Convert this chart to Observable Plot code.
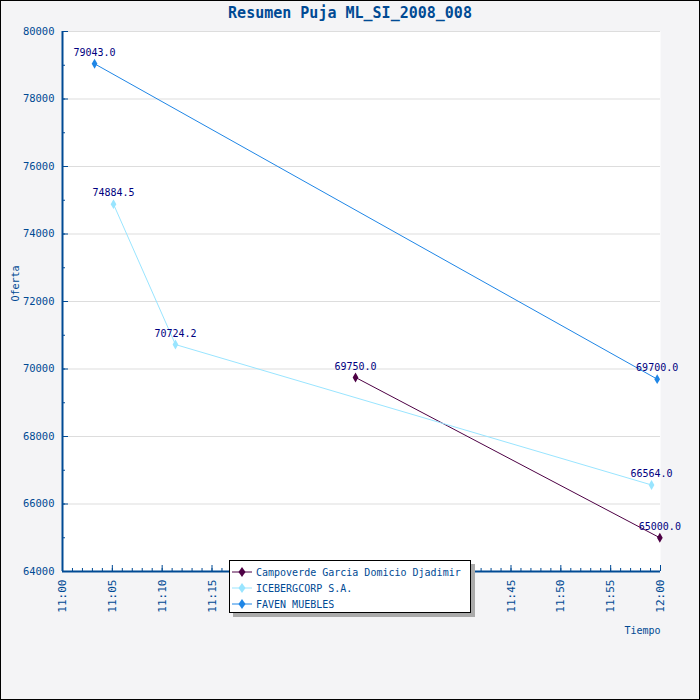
<!DOCTYPE html>
<html>
<head>
<meta charset="utf-8">
<script src="https://cdn.jsdelivr.net/npm/d3@7"></script>
<script src="https://cdn.jsdelivr.net/npm/@observablehq/plot@0.6"></script>
<style>
  html, body { margin: 0; padding: 0; background: #ffffff; }
  #wrap { position: relative; width: 700px; height: 700px; box-sizing: border-box; border: 1px solid #000; background: #f4f4f6; overflow: hidden; font-family: "DejaVu Sans Mono", monospace; }
  #title { position: absolute; left: 0; top: 3px; width: 698px; text-align: center; font-size: 15px; font-weight: bold; color: #004a94; }
  #chart { position: absolute; left: 0; top: 0; }
  #legend { position: absolute; left: 228px; top: 559px; width: 242px; height: 53px; box-sizing: border-box; background: #fff; border: 1px solid #000; box-shadow: 4px 4px 0 #aaaaaa; font-size: 10px; color: #004a94; }
  .row { position: absolute; left: 2px; height: 14px; display: flex; align-items: center; }
  .row svg { margin-right: 4px; }
</style>
</head>
<body>
<div id="wrap">
  <div id="chart"></div>
  <div id="title"></div>
  <div id="legend"></div>
</div>
<script>
const titleText = "Resumen Puja ML_SI_2008_008";
const xLabel = "Tiempo";
const yLabel = "Oferta";
const seriesNames = ["Campoverde Garcia Domicio Djadimir", "ICEBERGCORP S.A.", "FAVEN MUEBLES"];
const seriesColors = ["#4d0044", "#99e5ff", "#1f86e6"];
const campoverdeTimes = ["11:29:24", "11:59:56"];
const campoverdeValues = [69750.0, 65000.0];
const icebergTimes = ["11:05:07", "11:11:20", "11:59:06"];
const icebergValues = [74884.5, 70724.2, 66564.0];
const favenTimes = ["11:03:13", "11:59:40"];
const favenValues = [79043.0, 69700.0];
const xDomainText = ["11:00:00", "12:00:00"];
const yDomain = [64000, 80000];
const yMajorStep = 2000;
const yMinorStep = 1000;
const xMajorMinutes = 5;
const xMinorMinutes = 1;

const parse = d3.utcParse("%H:%M:%S");
const fmt = d3.utcFormat("%H:%M");
const xDomain = xDomainText.map(parse);

const data = [];
[[campoverdeTimes, campoverdeValues], [icebergTimes, icebergValues], [favenTimes, favenValues]].forEach(([ts, vs], i) => {
  ts.forEach((t, j) => data.push({series: seriesNames[i], time: parse(t), value: vs[j]}));
});

const spanMin = (xDomain[1] - xDomain[0]) / 60000;
const xMajor = d3.range(0, spanMin + 1, xMajorMinutes).map(m => new Date(+xDomain[0] + m * 60000));
const xMinor = d3.range(0, spanMin + 1, xMinorMinutes).map(m => new Date(+xDomain[0] + m * 60000));
const yMajor = d3.range(yDomain[0], yDomain[1] + 1, yMajorStep);
const yMinor = d3.range(yDomain[0], yDomain[1] + 1, yMinorStep);

const W = 698, H = 698;
const mL = 61, mR = 39, mT = 30, mB = 128;
const innerW = W - mL - mR, innerH = H - mT - mB;
const axisColor = "#004a94";

const chart = Plot.plot({
  width: W, height: H,
  marginLeft: mL, marginRight: mR, marginTop: mT, marginBottom: mB,
  style: {background: "transparent", fontFamily: "DejaVu Sans Mono, monospace", fontSize: "10px", overflow: "visible"},
  x: {type: "utc", domain: xDomain},
  y: {domain: yDomain},
  color: {domain: seriesNames, range: seriesColors},
  marks: [
    Plot.frame({fill: "white", stroke: null}),
    Plot.gridY(yMajor, {stroke: "#dddddd", strokeOpacity: 1}),
    Plot.tickX(xMinor, {x: d => d, stroke: axisColor, insetTop: innerH - 3}),
    Plot.tickX(xMajor, {x: d => d, stroke: axisColor, insetTop: innerH - 6}),
    Plot.tickY(yMinor, {y: d => d, stroke: axisColor, insetRight: innerW - 3}),
    Plot.tickY(yMajor, {y: d => d, stroke: axisColor, insetRight: innerW - 6}),
    Plot.ruleX([xDomain[0]], {stroke: axisColor, strokeWidth: 2}),
    Plot.ruleY([yDomain[0]], {stroke: axisColor, strokeWidth: 2}),
    Plot.axisX(xMajor, {tickSize: 0, tickPadding: 8, tickRotate: -90, tickFormat: fmt, fill: axisColor, fontSize: 11, label: null}),
    Plot.axisY(yMajor, {tickSize: 0, tickPadding: 8, tickFormat: d => String(d), fill: axisColor, fontSize: 10.5, label: null}),
    Plot.text([xLabel], {frameAnchor: "bottom-right", dy: 62, text: d => d, fill: axisColor, fontSize: 10, textAnchor: "end"}),
    Plot.text([yLabel], {frameAnchor: "left", dx: -47, text: d => d, fill: axisColor, fontSize: 10, rotate: -90}),
    Plot.line(data, {x: "time", y: "value", z: "series", stroke: "series", strokeWidth: 1}),
    Plot.dot(data, {x: "time", y: "value", fill: "series", symbol: "diamond", r: 3}),
    Plot.text(data, {x: "time", y: "value", text: d => d.value.toFixed(1), dy: -11, fill: "#000080", fontSize: 10})
  ]
});
document.getElementById("chart").appendChild(chart);
document.getElementById("title").textContent = titleText;

const legend = document.getElementById("legend");
seriesNames.forEach((name, i) => {
  const row = document.createElement("div");
  row.className = "row";
  row.style.top = (4 + i * 16) + "px";
  row.innerHTML = `<svg width="20" height="12"><line x1="0" y1="6" x2="20" y2="6" stroke="${seriesColors[i]}" stroke-width="1"/><path d="M10,1 L13.5,6 L10,11 L6.5,6 Z" fill="${seriesColors[i]}"/></svg><span></span>`;
  row.querySelector("span").textContent = name;
  legend.appendChild(row);
});
</script>
</body>
</html>
